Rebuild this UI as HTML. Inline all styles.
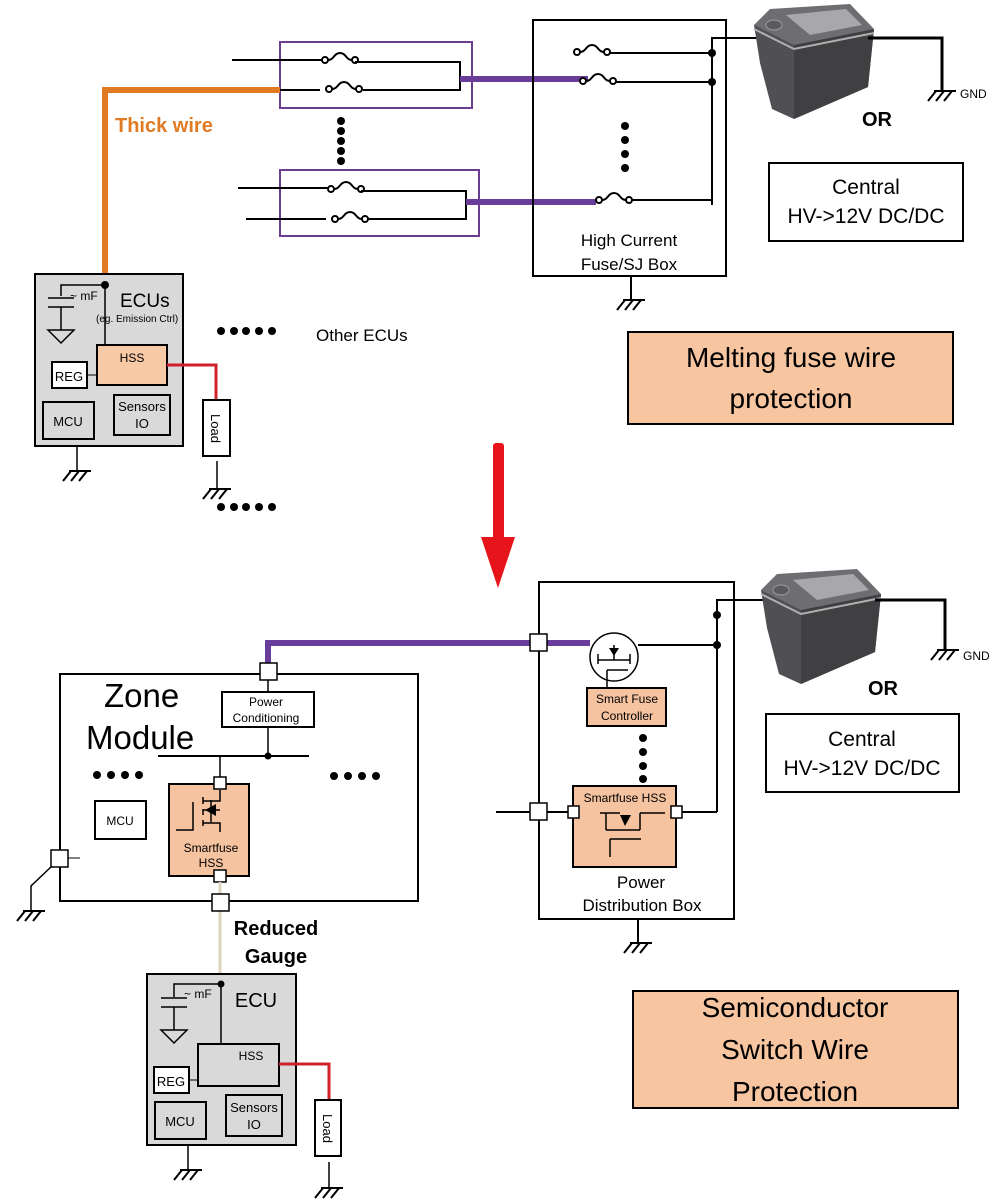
<!DOCTYPE html>
<html><head><meta charset="utf-8"><style>
html,body{margin:0;padding:0;background:#fff}
svg{display:block}
text{font-family:"Liberation Sans",Arial,sans-serif}
</style></head><body>
<svg width="1001" height="1199" viewBox="0 0 1001 1199" xmlns="http://www.w3.org/2000/svg">
<defs>
<g id="gnd" stroke="#000" stroke-width="2" fill="none">
<line x1="-8" y1="0" x2="14" y2="0"/>
<line x1="-6" y1="0" x2="-14" y2="10"/>
<line x1="2" y1="0" x2="-6" y2="10"/>
<line x1="10" y1="0" x2="2" y2="10"/>
</g>
<g id="fuse" stroke="#000" stroke-width="2" fill="none">
<circle cx="3" cy="0" r="3" fill="#fff"/>
<path d="M6,0 C12,0 12,-7 18,-7 C24,-7 24,0 30,0"/>
<circle cx="33" cy="0" r="3" fill="#fff"/>
</g>
<g id="batt">
<polygon points="4,22 124,26 118,84 44,116 22,106 10,60" fill="#505054"/>
<polygon points="44,42 124,26 118,84 44,116" fill="#404043"/>
<polygon points="4,22 20,6 100,1 124,26 44,42" fill="#6e6e72"/>
<polygon points="36,12 96,6 112,22 60,32" fill="#a8a8ac"/>
<polyline points="4,26 44,46 124,30" fill="none" stroke="#b0b0b0" stroke-width="2"/>
<ellipse cx="24" cy="22" rx="8" ry="5" fill="#5a5a5e" stroke="#999"/>
</g>
</defs>

<!-- TOP SECTION -->
<rect x="280" y="42" width="192" height="66" fill="none" stroke="#6b3d8f" stroke-width="2"/>
<line x1="232" y1="60" x2="322" y2="60" stroke="#000" stroke-width="2"/>
<use href="#fuse" x="322" y="60"/>
<polyline points="355,62 460,62 460,90 363,90" fill="none" stroke="#000" stroke-width="2"/>
<line x1="280" y1="90" x2="320" y2="90" stroke="#000" stroke-width="2"/>
<use href="#fuse" x="326" y="89"/>
<line x1="460" y1="79" x2="588" y2="79" stroke="#6b3d9a" stroke-width="6"/>
<rect x="280" y="170" width="199" height="66" fill="none" stroke="#6b3d8f" stroke-width="2"/>
<line x1="238" y1="188" x2="328" y2="188" stroke="#000" stroke-width="2"/>
<use href="#fuse" x="328" y="189"/>
<polyline points="361,191 466,191 466,219 368,219" fill="none" stroke="#000" stroke-width="2"/>
<line x1="246" y1="219" x2="326" y2="219" stroke="#000" stroke-width="2"/>
<use href="#fuse" x="332" y="219"/>
<line x1="466" y1="202" x2="596" y2="202" stroke="#6b3d9a" stroke-width="6"/>
<g fill="#000"><circle cx="341" cy="121" r="4"/><circle cx="341" cy="131" r="4"/><circle cx="341" cy="141" r="4"/><circle cx="341" cy="151" r="4"/><circle cx="341" cy="161" r="4"/></g>
<polyline points="280,90 105,90 105,285" fill="none" stroke="#e07b24" stroke-width="6"/>
<text x="115" y="132" font-size="20" font-weight="bold" fill="#e07b24">Thick wire</text>

<rect x="533" y="20" width="193" height="256" fill="none" stroke="#000" stroke-width="2"/>
<use href="#fuse" x="574" y="52"/>
<line x1="610" y1="53" x2="712" y2="53" stroke="#000" stroke-width="2"/>
<use href="#fuse" x="580" y="81"/>
<line x1="616" y1="82" x2="712" y2="82" stroke="#000" stroke-width="2"/>
<use href="#fuse" x="596" y="200"/>
<line x1="632" y1="200" x2="712" y2="200" stroke="#000" stroke-width="2"/>
<polyline points="712,205 712,38 780,38" fill="none" stroke="#000" stroke-width="2"/>
<circle cx="712" cy="53" r="4"/><circle cx="712" cy="82" r="4"/>
<g fill="#000"><circle cx="625" cy="126" r="4"/><circle cx="625" cy="140" r="4"/><circle cx="625" cy="154" r="4"/><circle cx="625" cy="168" r="4"/></g>
<text x="629" y="246" font-size="17" text-anchor="middle">High Current</text>
<text x="629" y="270" font-size="17" text-anchor="middle">Fuse/SJ Box</text>
<line x1="631" y1="276" x2="631" y2="300" stroke="#000" stroke-width="2"/>
<use href="#gnd" x="631" y="300"/>
<use href="#batt" x="750" y="3"/>
<polyline points="868,38 942,38 942,91" fill="none" stroke="#000" stroke-width="3"/>
<use href="#gnd" x="942" y="91"/>
<text x="960" y="98" font-size="12">GND</text>
<text x="877" y="126" font-size="20" font-weight="bold" text-anchor="middle">OR</text>
<rect x="769" y="163" width="194" height="78" fill="#fff" stroke="#000" stroke-width="2"/>
<text x="866" y="194" font-size="21" text-anchor="middle">Central</text>
<text x="866" y="223" font-size="21" text-anchor="middle">HV-&gt;12V DC/DC</text>

<!-- ECU top -->
<rect x="35" y="274" width="148" height="172" fill="#d9d9d9" stroke="#000" stroke-width="2"/>
<line x1="105" y1="285" x2="105" y2="345" stroke="#000" stroke-width="1.5"/>
<circle cx="105" cy="285" r="4"/>
<polyline points="105,285 61,285 61,296" fill="none" stroke="#000" stroke-width="1.5"/>
<line x1="48" y1="298" x2="74" y2="298" stroke="#000" stroke-width="1.5"/>
<line x1="48" y1="307" x2="74" y2="307" stroke="#000" stroke-width="1.5"/>
<line x1="61" y1="307" x2="61" y2="330" stroke="#000" stroke-width="1.5"/>
<polygon points="48,330 74,330 61,343" fill="none" stroke="#000" stroke-width="1.5"/>
<text x="70" y="300" font-size="12">~ mF</text>
<text x="120" y="307" font-size="19">ECUs</text>
<text x="96" y="322" font-size="10">(eg. Emission Ctrl)</text>
<rect x="97" y="345" width="70" height="40" fill="#f8c9a5" stroke="#000" stroke-width="2"/>
<text x="132" y="362" font-size="12" text-anchor="middle">HSS</text>
<rect x="52" y="362" width="35" height="26" fill="#fff" stroke="#000" stroke-width="2"/>
<line x1="87" y1="375" x2="97" y2="375" stroke="#000" stroke-width="1"/>
<text x="69" y="381" font-size="13" text-anchor="middle">REG</text>
<rect x="43" y="402" width="51" height="37" fill="#d9d9d9" stroke="#000" stroke-width="2"/>
<text x="68" y="426" font-size="13" text-anchor="middle">MCU</text>
<rect x="114" y="395" width="56" height="40" fill="#d9d9d9" stroke="#000" stroke-width="2"/>
<text x="142" y="411" font-size="13" text-anchor="middle">Sensors</text>
<text x="142" y="428" font-size="13" text-anchor="middle">IO</text>
<polyline points="167,365 216,365 216,400" fill="none" stroke="#d0202a" stroke-width="3"/>
<rect x="203" y="400" width="27" height="56" fill="#fff" stroke="#000" stroke-width="2"/>
<text x="0" y="0" font-size="13" transform="translate(211,414) rotate(90)">Load</text>
<line x1="77" y1="446" x2="77" y2="471" stroke="#000" stroke-width="1.5"/>
<use href="#gnd" x="77" y="471"/>
<line x1="217" y1="461" x2="217" y2="489" stroke="#000" stroke-width="1.5"/>
<use href="#gnd" x="217" y="489"/>
<g fill="#000"><circle cx="221" cy="331" r="4"/><circle cx="234" cy="331" r="4"/><circle cx="246" cy="331" r="4"/><circle cx="259" cy="331" r="4"/><circle cx="272" cy="331" r="4"/></g>
<text x="316" y="341" font-size="17">Other ECUs</text>
<g fill="#000"><circle cx="221" cy="507" r="4"/><circle cx="234" cy="507" r="4"/><circle cx="246" cy="507" r="4"/><circle cx="259" cy="507" r="4"/><circle cx="272" cy="507" r="4"/></g>

<rect x="628" y="332" width="325" height="92" fill="#f7c5a0" stroke="#000" stroke-width="2"/>
<text x="791" y="367" font-size="28" text-anchor="middle">Melting fuse wire</text>
<text x="791" y="408" font-size="28" text-anchor="middle">protection</text>

<rect x="493" y="443" width="11" height="96" fill="#e8141b" rx="3"/>
<polygon points="481,537 515,537 498,588" fill="#e8141b"/>

<!-- BOTTOM SECTION -->
<rect x="539" y="582" width="195" height="337" fill="none" stroke="#000" stroke-width="2"/>
<line x1="638" y1="919" x2="638" y2="942" stroke="#000" stroke-width="2"/>
<use href="#gnd" x="638" y="943"/>
<polyline points="268,670 268,643 590,643" fill="none" stroke="#6b3d9a" stroke-width="6"/>
<rect x="530" y="634" width="17" height="17" fill="#fff" stroke="#000" stroke-width="1.5"/>
<circle cx="614" cy="657" r="24" fill="#fff" stroke="#000" stroke-width="1.5"/>
<g stroke="#000" stroke-width="1.5" fill="none">
<line x1="598" y1="660" x2="630" y2="660"/>
<line x1="598" y1="654" x2="598" y2="664"/><line x1="630" y1="654" x2="630" y2="664"/>
<line x1="614" y1="645" x2="614" y2="660"/>
<line x1="607" y1="670" x2="628" y2="670"/>
<line x1="607" y1="670" x2="607" y2="688"/>
</g>
<polygon points="609,648 619,648 614,656" fill="#000"/>
<line x1="638" y1="645" x2="717" y2="645" stroke="#000" stroke-width="2"/>
<polyline points="717,812 717,600 785,600" fill="none" stroke="#000" stroke-width="2"/>
<circle cx="717" cy="615" r="4"/><circle cx="717" cy="645" r="4"/>
<rect x="587" y="688" width="79" height="38" fill="#f5c3a0" stroke="#000" stroke-width="2"/>
<text x="627" y="703" font-size="12" text-anchor="middle">Smart Fuse</text>
<text x="627" y="720" font-size="12" text-anchor="middle">Controller</text>
<g fill="#000"><circle cx="643" cy="738" r="4"/><circle cx="643" cy="752" r="4"/><circle cx="643" cy="766" r="4"/><circle cx="643" cy="779" r="4"/></g>
<rect x="573" y="786" width="103" height="81" fill="#f5c3a0" stroke="#000" stroke-width="2"/>
<text x="625" y="802" font-size="12" text-anchor="middle">Smartfuse HSS</text>
<g stroke="#000" stroke-width="1.5" fill="none">
<line x1="600" y1="813" x2="620" y2="813"/><line x1="606" y1="813" x2="606" y2="830"/>
<line x1="606" y1="830" x2="640" y2="830"/><line x1="640" y1="813" x2="640" y2="830"/>
<line x1="640" y1="813" x2="665" y2="813"/>
<line x1="610" y1="839" x2="641" y2="839"/><line x1="610" y1="839" x2="610" y2="857"/>
</g>
<polygon points="620,815 631,815 625,826" fill="#000"/>
<line x1="496" y1="812" x2="573" y2="812" stroke="#000" stroke-width="2"/>
<line x1="676" y1="812" x2="717" y2="812" stroke="#000" stroke-width="2"/>
<rect x="530" y="803" width="17" height="17" fill="#fff" stroke="#000" stroke-width="1.5"/>
<rect x="568" y="806" width="11" height="12" fill="#fff" stroke="#000" stroke-width="1.5"/>
<rect x="671" y="806" width="11" height="12" fill="#fff" stroke="#000" stroke-width="1.5"/>
<text x="641" y="888" font-size="17" text-anchor="middle">Power</text>
<text x="642" y="911" font-size="17" text-anchor="middle">Distribution Box</text>
<use href="#batt" x="757" y="568"/>
<polyline points="875,600 945,600 945,650" fill="none" stroke="#000" stroke-width="3"/>
<use href="#gnd" x="945" y="650"/>
<text x="963" y="660" font-size="12">GND</text>
<text x="883" y="695" font-size="20" font-weight="bold" text-anchor="middle">OR</text>
<rect x="766" y="714" width="193" height="78" fill="#fff" stroke="#000" stroke-width="2"/>
<text x="862" y="746" font-size="21" text-anchor="middle">Central</text>
<text x="862" y="775" font-size="21" text-anchor="middle">HV-&gt;12V DC/DC</text>
<rect x="633" y="991" width="325" height="117" fill="#f7c5a0" stroke="#000" stroke-width="2"/>
<text x="795" y="1017" font-size="28" text-anchor="middle">Semiconductor</text>
<text x="795" y="1059" font-size="28" text-anchor="middle">Switch Wire</text>
<text x="795" y="1101" font-size="28" text-anchor="middle">Protection</text>

<!-- Zone module -->
<rect x="60" y="674" width="358" height="227" fill="none" stroke="#000" stroke-width="2"/>
<text x="104" y="707" font-size="33">Zone</text>
<text x="86" y="749" font-size="33">Module</text>
<line x1="268" y1="679" x2="268" y2="692" stroke="#000" stroke-width="1.5"/>
<rect x="260" y="663" width="17" height="17" fill="#fff" stroke="#000" stroke-width="1.5"/>
<rect x="222" y="692" width="92" height="35" fill="#fff" stroke="#000" stroke-width="2"/>
<text x="266" y="706" font-size="12" text-anchor="middle">Power</text>
<text x="266" y="722" font-size="12" text-anchor="middle">Conditioning</text>
<line x1="268" y1="727" x2="268" y2="756" stroke="#000" stroke-width="1.5"/>
<line x1="158" y1="756" x2="309" y2="756" stroke="#000" stroke-width="2"/>
<circle cx="268" cy="756" r="3.5"/>
<line x1="220" y1="756" x2="220" y2="779" stroke="#000" stroke-width="1.5"/>
<g fill="#000"><circle cx="97" cy="775" r="4"/><circle cx="111" cy="775" r="4"/><circle cx="125" cy="775" r="4"/><circle cx="139" cy="775" r="4"/>
<circle cx="334" cy="776" r="4"/><circle cx="348" cy="776" r="4"/><circle cx="362" cy="776" r="4"/><circle cx="376" cy="776" r="4"/></g>
<rect x="169" y="784" width="80" height="92" fill="#f5c3a0" stroke="#000" stroke-width="2"/>
<g stroke="#000" stroke-width="1.5" fill="none">
<polyline points="220,790 220,801 203,801"/>
<line x1="203" y1="797" x2="203" y2="804"/>
<line x1="203" y1="809" x2="203" y2="815"/>
<line x1="203" y1="820" x2="203" y2="826"/>
<line x1="211" y1="800" x2="211" y2="822"/>
<polyline points="203,810 220,810"/>
<polyline points="203,823 220,823 220,832"/>
<polyline points="176,830 193,830 193,802"/>
</g>
<polygon points="205,810 216,804 216,816" fill="#000"/>
<rect x="214" y="777" width="12" height="12" fill="#fff" stroke="#000" stroke-width="1.5"/>
<text x="211" y="852" font-size="12" text-anchor="middle">Smartfuse</text>
<text x="211" y="867" font-size="12" text-anchor="middle">HSS</text>
<rect x="214" y="870" width="12" height="12" fill="#fff" stroke="#000" stroke-width="1.5"/>
<line x1="220" y1="882" x2="220" y2="984" stroke="#ddd5c0" stroke-width="3"/>
<rect x="212" y="894" width="17" height="17" fill="#fff" stroke="#000" stroke-width="1.5"/>
<rect x="95" y="801" width="51" height="38" fill="#fff" stroke="#000" stroke-width="2"/>
<text x="120" y="825" font-size="12" text-anchor="middle">MCU</text>
<rect x="51" y="850" width="17" height="17" fill="#fff" stroke="#000" stroke-width="1.5"/>
<line x1="68" y1="858" x2="80" y2="858" stroke="#000" stroke-width="1"/>
<polyline points="52,866 31,886 31,911" fill="none" stroke="#000" stroke-width="1.5"/>
<use href="#gnd" x="31" y="911"/>
<text x="276" y="935" font-size="20" font-weight="bold" text-anchor="middle">Reduced</text>
<text x="276" y="963" font-size="20" font-weight="bold" text-anchor="middle">Gauge</text>

<!-- ECU bottom -->
<rect x="147" y="974" width="149" height="171" fill="#d9d9d9" stroke="#000" stroke-width="2"/>
<line x1="221" y1="984" x2="221" y2="1044" stroke="#000" stroke-width="1.5"/>
<circle cx="221" cy="984" r="3.5"/>
<polyline points="221,984 174,984 174,997" fill="none" stroke="#000" stroke-width="1.5"/>
<line x1="161" y1="998" x2="187" y2="998" stroke="#000" stroke-width="1.5"/>
<line x1="161" y1="1007" x2="187" y2="1007" stroke="#000" stroke-width="1.5"/>
<line x1="174" y1="1007" x2="174" y2="1030" stroke="#000" stroke-width="1.5"/>
<polygon points="161,1030 187,1030 174,1043" fill="none" stroke="#000" stroke-width="1.5"/>
<text x="184" y="998" font-size="12">~ mF</text>
<text x="256" y="1007" font-size="20" text-anchor="middle">ECU</text>
<rect x="198" y="1044" width="81" height="42" fill="#d9d9d9" stroke="#000" stroke-width="2"/>
<text x="251" y="1060" font-size="12" text-anchor="middle">HSS</text>
<rect x="154" y="1067" width="35" height="26" fill="#fff" stroke="#000" stroke-width="2"/>
<line x1="189" y1="1080" x2="198" y2="1080" stroke="#000" stroke-width="1"/>
<text x="171" y="1086" font-size="13" text-anchor="middle">REG</text>
<rect x="155" y="1102" width="51" height="37" fill="#d9d9d9" stroke="#000" stroke-width="2"/>
<text x="180" y="1126" font-size="13" text-anchor="middle">MCU</text>
<rect x="226" y="1095" width="56" height="41" fill="#d9d9d9" stroke="#000" stroke-width="2"/>
<text x="254" y="1112" font-size="13" text-anchor="middle">Sensors</text>
<text x="254" y="1129" font-size="13" text-anchor="middle">IO</text>
<polyline points="279,1064 329,1064 329,1100" fill="none" stroke="#d0202a" stroke-width="3"/>
<rect x="315" y="1100" width="26" height="56" fill="#fff" stroke="#000" stroke-width="2"/>
<text x="0" y="0" font-size="13" transform="translate(323,1114) rotate(90)">Load</text>
<line x1="188" y1="1145" x2="188" y2="1170" stroke="#000" stroke-width="1.5"/>
<use href="#gnd" x="188" y="1170"/>
<line x1="329" y1="1162" x2="329" y2="1188" stroke="#000" stroke-width="1.5"/>
<use href="#gnd" x="329" y="1188"/>
</svg>
</body></html>
